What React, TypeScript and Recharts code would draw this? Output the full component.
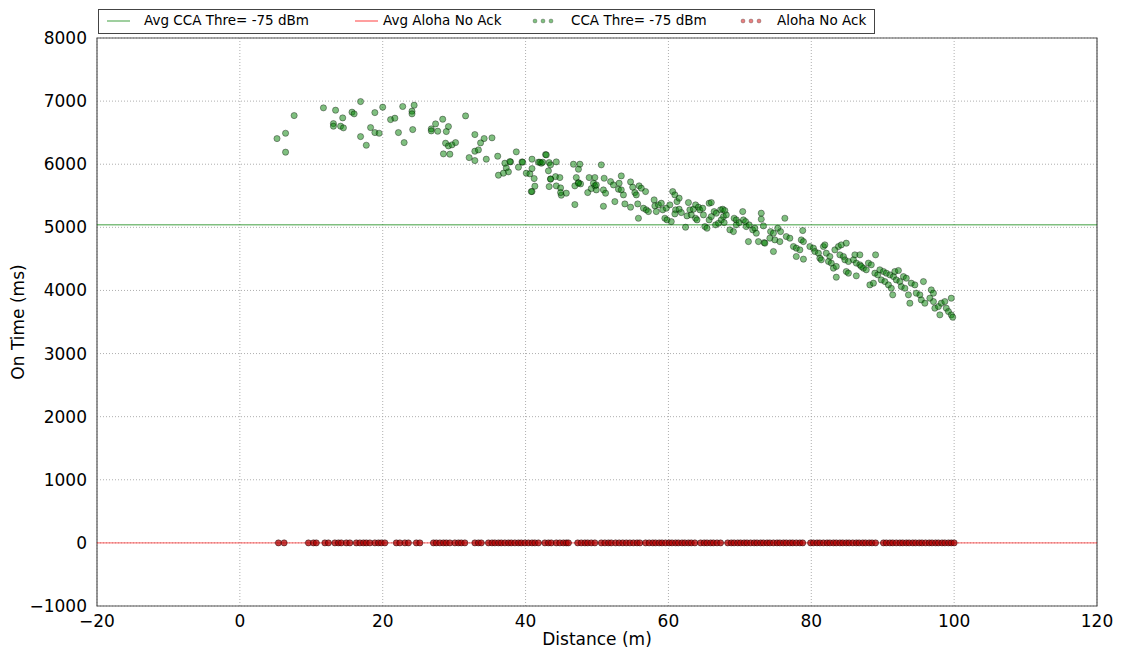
import React from 'react';
import {
  ScatterChart,
  Scatter,
  XAxis,
  YAxis,
  CartesianGrid,
  ReferenceLine,
  ReferenceArea,
  Label,
} from 'recharts';

// CCA threshold -75 dBm: distance (m) / on time (ms)
const ccaDistance = [
  5.2, 6.4, 6.4, 7.6, 11.7, 13.4, 13.1, 13.1, 14.1, 14.5, 14.4, 15.7, 16.0, 16.9, 16.9, 17.7, 18.3, 18.9,
  18.9, 19.5, 20.0, 21.1, 21.7, 22.2, 22.8, 23.0, 24.1, 24.1, 24.4, 24.2, 26.8, 26.8, 27.4, 27.7, 28.4, 28.5,
  29.2, 28.9, 31.6, 28.8, 29.2, 29.7, 30.2, 29.4, 32.9, 34.2, 35.3, 33.7, 32.9, 33.4, 32.1, 32.9, 34.5, 36.1,
  38.7, 37.9, 39.5, 39.0, 37.3, 37.6, 36.2, 36.9, 40.9, 40.1, 40.6, 40.9, 41.2, 41.3, 40.9, 42.8, 41.8, 42.2,
  43.3, 43.5, 44.3, 43.2, 43.5, 44.2, 44.8, 43.3, 44.3, 44.9, 45.0, 45.7, 46.7, 47.6, 47.4, 47.1, 47.4, 47.7,
  46.9, 46.9, 48.9, 49.7, 48.7, 49.2, 49.7, 49.9,
  37.1, 37.8, 39.6, 42.0, 42.4, 42.9, 40.8, 43.5, 44.9, 47.4,
  50.6, 49.5, 49.9, 51.0, 50.9, 51.2, 51.9, 52.3, 53.1, 53.4, 53.0, 53.4, 50.9, 52.5, 53.7, 53.9, 54.7, 55.0,
  55.3, 55.5, 55.9, 56.2, 54.7, 55.7, 56.5, 56.9, 57.2, 56.8, 55.8, 58.0, 58.1, 58.6, 59.0, 58.3, 59.2, 59.7,
  59.5, 59.8, 60.4, 60.6, 60.9, 61.2, 61.5, 60.2, 61.0, 61.5, 60.9, 61.8, 62.4, 62.8, 63.0, 63.5, 62.6, 63.2,
  63.8, 64.2, 64.4, 64.8, 63.8, 64.0, 64.9, 65.7, 66.0, 65.1, 65.4, 65.7, 66.0, 66.4, 66.7, 66.6, 67.0, 67.3,
  67.6, 67.9, 67.7, 68.1, 67.4, 67.8, 68.6, 69.1, 69.2, 69.5, 69.5, 69.9, 70.4, 70.5, 70.8, 70.9, 71.3, 71.2,
  71.8, 72.1, 72.3, 73.0, 73.0, 73.3, 72.6, 73.4,
  76.3, 74.3, 74.7, 75.3, 75.7, 73.5, 74.7, 74.2, 74.9, 75.6, 76.5, 77.0, 77.9, 77.5, 77.9, 78.4, 78.8, 78.6,
  78.9, 78.9, 79.8, 80.3, 80.5, 81.0, 81.7, 81.9, 81.2, 81.4, 82.1, 82.6, 82.4, 82.8, 83.1, 83.5, 83.5, 83.3,
  83.8, 84.2, 84.9, 84.0, 84.5, 84.7, 85.2, 84.9, 85.2, 86.1, 86.8, 85.9, 86.3, 86.3, 87.3, 87.7, 86.8, 87.0,
  88.0, 88.4, 89.0, 88.2, 88.7, 88.9, 89.3, 89.6, 90.1, 89.8, 90.3, 90.5, 91.0, 91.5, 90.8, 91.2, 91.4, 91.7,
  92.2, 91.9, 92.4, 92.6, 93.1, 92.9, 93.3, 93.6, 93.8, 94.0, 94.5, 94.7, 95.2, 95.7, 95.4, 95.9, 96.8, 97.1,
  96.6, 97.1, 97.3, 97.8, 98.0, 98.2, 98.7, 98.9, 99.2, 99.6, 99.6, 99.8,
];
const ccaOnTime = [
  6406, 6491, 6191, 6771, 6893, 6856, 6644, 6603, 6603, 6576, 6734, 6825, 6798, 6993, 6438, 6301, 6581, 6818,
  6502, 6491, 6904, 6707, 6729, 6502, 6915, 6343, 6840, 6798, 6935, 6549, 6560, 6528, 6639, 6523, 6713, 6164,
  6597, 6518, 6766, 6333, 6290, 6307, 6343, 6159, 6470, 6407, 6418, 6338, 6206, 6227, 6105, 6058, 6080, 6127,
  6196, 6037, 6037, 5953, 5942, 5879, 5826, 5858, 6080, 5858, 5847, 5931, 5773, 5652, 5567, 6153, 6032, 6016,
  6026, 5990, 6037, 5895, 5768, 5804, 5789, 5646, 5657, 5625, 5509, 5541, 6000, 6000, 5921, 5789, 5709, 5688,
  5657, 5361, 5789, 5789, 5551, 5614, 5657, 5593,
  6016, 6042, 6032, 6032, 6032, 6148, 5567, 5763, 5551, 5699,
  5990, 5699, 5672, 5778, 5593, 5541, 5725, 5672, 5699, 5815, 5604, 5593, 5334, 5408, 5514, 5371, 5720, 5636,
  5551, 5514, 5657, 5620, 5319, 5371, 5303, 5277, 5250, 5567, 5144, 5435, 5340, 5356, 5382, 5250, 5277, 5303,
  5144, 5118, 5091, 5567, 5514, 5408, 5462, 5356, 5277, 5287, 5213, 5234, 5002, 5393, 5277, 5287, 5181, 5197,
  5356, 5319, 5277, 5303, 5144, 5118, 5197, 5382, 5393, 5012, 4986, 5118, 5170, 5250, 5224, 5039, 5065, 5277,
  5287, 5266, 5170, 5197, 5118, 5075, 4960, 4933, 5144, 5118, 5039, 5075, 5250, 5118, 5091, 5012, 5039, 4774,
  4960, 4986, 4907, 5224, 5129, 5023, 4774, 4758,
  5144, 4933, 4907, 4986, 4933, 4749, 4617, 4828, 4801, 4774, 4854, 4828, 4538, 4696, 4670, 4643, 4949, 4801,
  4774, 4496, 4696, 4670, 4617, 4590, 4696, 4722, 4512, 4485, 4590, 4538, 4459, 4433, 4353, 4380, 4210, 4643,
  4696, 4722, 4749, 4564, 4538, 4485, 4459, 4300, 4274, 4564, 4564, 4485, 4433, 4231, 4353, 4327, 4406, 4380,
  4433, 4406, 4564, 4088, 4115, 4274, 4247, 4327, 4300, 4167, 4141, 4274, 4247, 4220, 4088, 4035, 3930, 4300,
  4316, 4167, 4141, 4062, 4035, 4220, 4194, 3930, 3798, 4115, 4088, 3957, 3930, 4141, 3850, 3798, 4009, 3957,
  3877, 3824, 3719, 3745, 3613, 3798, 3824, 3719, 3666, 3877, 3613, 3576,
];

// Aloha no ack: every point sits on 0 ms
const alohaDistance = [
  5.4, 6.2, 9.6, 10.3, 10.7, 11.9, 12.4, 13.3, 13.8, 14.2, 14.9, 15.4, 16.3, 16.8, 17.3, 17.7, 18.2, 18.9,
  19.4, 19.8, 20.3, 21.9, 22.4, 23.1, 23.6, 24.7, 25.2, 27.1, 27.5, 28.0, 28.5, 28.9, 29.4, 30.1, 30.6, 31.0,
  31.5, 32.9, 33.4, 33.8, 34.8, 35.3, 35.7, 36.2, 36.6, 37.1, 37.6, 38.0, 38.5, 39.0, 39.4, 39.9, 40.4, 40.9,
  41.3, 41.8, 42.7, 43.2, 43.6, 44.3, 44.8, 45.3, 45.7, 46.0, 47.3, 47.8, 48.3, 48.7, 49.2, 49.7, 50.6, 51.1,
  51.6, 52.0, 52.6, 53.1, 53.6, 54.1, 54.6, 55.1, 55.6, 56.0, 56.8, 57.3, 57.8, 58.2, 58.7, 59.1, 59.6, 60.1,
  60.5, 61.0, 61.4, 61.9, 62.3, 62.8, 63.2, 63.7, 64.5, 65.0, 65.4, 65.9, 66.3, 66.8, 67.3, 68.3, 68.8, 69.2,
  69.7, 70.1, 70.6, 71.0, 71.5, 72.0, 72.4, 72.9, 73.3, 73.8, 74.2, 74.7, 75.2, 75.6, 76.1, 76.5, 77.0, 77.4,
  77.9, 78.4, 78.8, 79.9, 80.3, 80.8, 81.2, 81.7, 82.2, 82.6, 83.1, 83.5, 84.0, 84.4, 84.9, 85.3, 85.8, 86.3,
  86.7, 87.2, 87.6, 88.1, 88.5, 89.0, 90.1, 90.5, 91.0, 91.4, 91.9, 92.4, 92.8, 93.3, 93.7, 94.2, 94.6, 95.1,
  95.5, 96.0, 96.5, 96.9, 97.4, 97.8, 98.3, 98.7, 99.2, 99.6, 100.0,
];
const alohaOnTime = 0;

const avgCcaOnTime = 5040;
const avgAlohaOnTime = 0;

const xTicks = [-20, 0, 20, 40, 60, 80, 100, 120];
const yTicks = [-1000, 0, 1000, 2000, 3000, 4000, 5000, 6000, 7000, 8000];

const ccaData = ccaDistance.map((d, i) => ({ distance: d, onTime: ccaOnTime[i] }));
const alohaData = alohaDistance.map((d) => ({ distance: d, onTime: alohaOnTime }));

const FONT = '"DejaVu Sans", sans-serif';
const fmt = (v: number) => (v < 0 ? `\u2212${Math.abs(v)}` : `${v}`);

const GreenDot = (props: any) => (
  <circle cx={props.cx} cy={props.cy} r={3.1} fill="#008000" fillOpacity={0.5} stroke="#000" strokeOpacity={0.45} strokeWidth={0.8} />
);
const RedDot = (props: any) => (
  <circle cx={props.cx} cy={props.cy} r={3.1} fill="#b00000" fillOpacity={0.75} stroke="#000" strokeOpacity={0.5} strokeWidth={0.8} />
);

const legendText: React.CSSProperties = { position: 'absolute', top: 12, fontSize: 13.5, color: '#000', whiteSpace: 'nowrap' };

const LegendLine = ({ left, color }: { left: number; color: string }) => (
  <svg style={{ position: 'absolute', left, top: 16 }} width={24} height={10}>
    <line x1={0} y1={5} x2={23} y2={5} stroke={color} strokeOpacity={0.5} strokeWidth={1.5} />
  </svg>
);

const LegendDots = ({ left, color }: { left: number; color: string }) => (
  <svg style={{ position: 'absolute', left, top: 16 }} width={24} height={10}>
    {[3, 11, 19].map((cx) => (
      <circle key={cx} cx={cx} cy={5} r={2} fill={color} fillOpacity={0.5} stroke="#000" strokeOpacity={0.4} strokeWidth={0.6} />
    ))}
  </svg>
);

const App: React.FC = () => {
  return (
    <div style={{ position: 'absolute', left: 0, top: 0, width: 1121, height: 654, background: '#fff', fontFamily: FONT }}>
      <ScatterChart width={1121} height={654} margin={{ top: 38, right: 24, bottom: 0, left: 17 }}>
        <CartesianGrid stroke="#9a9a9a" strokeDasharray="1 2" strokeWidth={0.8} />
        <XAxis
          type="number"
          dataKey="distance"
          domain={[-20, 120]}
          ticks={xTicks}
          tickFormatter={fmt}
          allowDataOverflow
          axisLine={false}
          tickLine={false}
          tickMargin={3}
          height={48}
          tick={{ fill: '#000', fontSize: 17, fontFamily: FONT }}
        >
          <Label
            content={({ viewBox }: any) => (
              <text x={viewBox.x + viewBox.width / 2} y={viewBox.y + 33} textAnchor="middle" dominantBaseline="central" fontSize={17} fontFamily={FONT} fill="#000">
                Distance (m)
              </text>
            )}
          />
        </XAxis>
        <YAxis
          type="number"
          dataKey="onTime"
          domain={[-1000, 8000]}
          ticks={yTicks}
          tickFormatter={fmt}
          allowDataOverflow
          axisLine={false}
          tickLine={false}
          tickMargin={4}
          width={80}
          tick={{ fill: '#000', fontSize: 17, fontFamily: FONT }}
        >
          <Label
            content={({ viewBox }: any) => {
              const cy = viewBox.y + viewBox.height / 2;
              return (
                <text x={18} y={cy} transform={`rotate(-90 18 ${cy})`} textAnchor="middle" dominantBaseline="central" fontSize={17} fontFamily={FONT} fill="#000">
                  On Time (ms)
                </text>
              );
            }}
          />
        </YAxis>
        <ReferenceLine y={avgCcaOnTime} stroke="#008000" strokeOpacity={0.5} strokeWidth={1.6} />
        <ReferenceLine y={avgAlohaOnTime} stroke="#ff0000" strokeOpacity={0.5} strokeWidth={1.2} />
        <Scatter name="CCA Thre= -75 dBm" data={ccaData} shape={GreenDot} isAnimationActive={false} />
        <Scatter name="Aloha No Ack" data={alohaData} shape={RedDot} isAnimationActive={false} />
        <ReferenceArea x1={-20} x2={120} y1={-1000} y2={8000} fill="none" stroke="#555" strokeWidth={1.2} ifOverflow="visible" />
      </ScatterChart>

      <div style={{ position: 'absolute', left: 98, top: 9, width: 777, height: 25, border: '1px solid #444', boxSizing: 'border-box', background: '#fff' }} />
      <LegendLine left={107} color="#008000" />
      <span style={{ ...legendText, left: 144 }}>Avg CCA Thre= -75 dBm</span>
      <LegendLine left={355} color="#ff0000" />
      <span style={{ ...legendText, left: 383 }}>Avg Aloha No Ack</span>
      <LegendDots left={532} color="#008000" />
      <span style={{ ...legendText, left: 571 }}>CCA Thre= -75 dBm</span>
      <LegendDots left={740} color="#d00000" />
      <span style={{ ...legendText, left: 777 }}>Aloha No Ack</span>
    </div>
  );
};

export default App;
